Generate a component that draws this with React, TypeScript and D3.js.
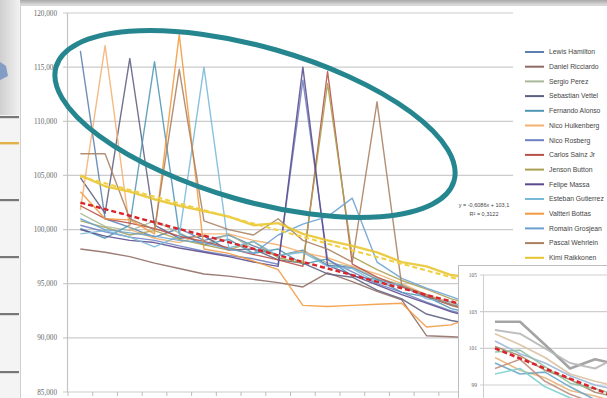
import React from "react";
import * as d3 from "d3";

const laps = d3.range(1, 19);
const yTicks = [85, 90, 95, 100, 105, 110, 115, 120];

const drivers = [
  "Lewis Hamilton", "Daniel Ricciardo", "Sergio Perez", "Sebastian Vettel", "Fernando Alonso",
  "Nico Hulkenberg", "Nico Rosberg", "Carlos Sainz Jr", "Jenson Button", "Felipe Massa",
  "Esteban Gutierrez", "Valtteri Bottas", "Romain Grosjean", "Pascal Wehrlein", "Kimi Raikkonen",
];
const colors = [
  "#5b80b0", "#8e6a62", "#a9b79a", "#5c5f80", "#4f97b5",
  "#f3b070", "#6f7fc0", "#b8504a", "#a8a050", "#5a4a8c",
  "#7ab8d8", "#f39a40", "#6aa0d0", "#a88060", "#e8c530",
];

const hamilton = [116.5, 101.0, 100.2, 99.3, 100.1, 99.0, 99.5, 98.5, 97.6, 98.1, 96.7, 96.5, 95.4, 94.8, 93.8, 93.1, 92.6, 92.0];
const ricciardo = [98.2, 97.9, 97.5, 96.9, 96.4, 95.9, 95.7, 95.4, 95.1, 94.7, 96.0, 95.2, 94.3, 93.5, 90.2, 90.1, 90.0, 90.0];
const perez = [101.5, 100.3, 99.9, 100.8, 99.7, 98.6, 99.6, 98.2, 97.6, 98.0, 96.9, 96.6, 95.5, 94.9, 93.9, 93.3, 92.6, 92.3];
const vettel = [104.8, 101.5, 115.8, 100.4, 99.2, 99.4, 98.1, 98.2, 97.2, 96.9, 95.9, 95.6, 94.4, 93.6, 92.2, 91.6, 91.2, 90.9];
const alonso = [100.1, 99.2, 100.4, 115.5, 99.6, 98.6, 99.1, 97.8, 98.2, 96.8, 97.3, 95.7, 95.4, 94.2, 93.8, 92.7, 92.2, 91.7];
const hulkenberg = [101.8, 117.0, 100.0, 99.2, 98.8, 99.6, 99.6, 99.0, 98.6, 97.9, 97.4, 96.6, 95.9, 95.0, 94.0, 93.2, 92.6, 92.2];
const rosberg = [100.4, 99.8, 99.3, 99.0, 98.5, 98.0, 97.6, 97.3, 96.8, 113.8, 97.2, 96.1, 95.0, 94.2, 93.3, 92.5, 91.9, 91.5];
const sainz = [102.2, 101.0, 100.6, 100.1, 99.4, 98.9, 98.3, 97.7, 97.2, 96.6, 114.6, 96.8, 95.6, 94.7, 93.8, 93.0, 92.5, 92.0];
const button = [100.8, 100.2, 99.5, 99.9, 99.1, 98.6, 98.1, 98.9, 97.4, 96.9, 113.5, 97.5, 96.3, 95.3, 94.5, 93.6, 93.0, 92.6];
const massa = [100.0, 99.4, 99.0, 98.8, 98.3, 97.9, 97.5, 97.0, 96.6, 115.0, 96.7, 95.8, 94.9, 94.0, 93.2, 92.4, 91.8, 91.4];
const gutierrez = [99.6, 99.9, 99.3, 98.4, 99.4, 115.0, 98.3, 98.9, 97.6, 97.9, 96.6, 96.4, 95.1, 94.9, 93.6, 93.3, 92.4, 92.3];
const bottas = [103.5, 101.0, 100.9, 99.6, 118.0, 98.2, 97.8, 97.1, 96.3, 93.0, 92.9, 93.0, 93.1, 93.2, 91.0, 91.2, 92.0, 91.5];
const grosjean = [101.0, 100.0, 99.7, 99.4, 99.0, 98.8, 98.2, 97.8, 99.5, 100.5, 101.2, 102.9, 97.0, 95.5, 94.6, 93.8, 93.0, 92.5];
const wehrlein = [107.0, 107.0, 101.0, 100.0, 114.8, 100.8, 100.0, 99.5, 101.0, 99.0, 98.2, 97.0, 111.8, 94.8, 94.0, 93.0, 92.3, 91.9];
const raikkonen = [105.0, 104.0, 103.5, 102.8, 102.2, 101.7, 101.2, 100.4, 100.6, 99.6, 99.0, 98.5, 97.9, 97.0, 96.6, 95.8, 95.5, 95.0];
const seriesValues = [hamilton, ricciardo, perez, vettel, alonso, hulkenberg, rosberg, sainz, button, massa, gutierrez, bottas, grosjean, wehrlein, raikkonen];

// trend lines
const trendSlope = -0.6086;
const trendIntercept = 103.1;
const yellowTrendStart = 104.9;
const yellowTrendSlope = -0.62;

// inset
const insetLaps = [1, 2, 3, 4, 5, 6];
const insetTicks = [99, 101, 103, 105];
const insetSeries = [
  { color: "#9a9a9a", w: 2.6, v: [102.45, 102.45, 101.2, 99.9, 100.4, 100.1] },
  { color: "#b8b8b8", w: 2, v: [102.0, 101.8, 101.0, 100.2, 99.9, 100.6] },
  { color: "#d9c0a0", w: 1.6, v: [101.8, 101.2, 100.5, 99.6, 99.2, 98.9] },
  { color: "#9fb6d8", w: 1.6, v: [101.4, 100.7, 100.2, 99.5, 99.0, 98.7] },
  { color: "#a58a6a", w: 1.6, v: [101.1, 100.6, 99.8, 99.3, 98.6, 98.3] },
  { color: "#8fc0a0", w: 1.6, v: [100.8, 100.9, 100.0, 99.1, 98.8, 98.4] },
  { color: "#e7b47a", w: 1.6, v: [100.5, 99.8, 99.4, 98.7, 98.4, 98.0] },
  { color: "#6aa6c8", w: 1.6, v: [100.2, 99.6, 99.7, 98.9, 98.2, 97.9] },
  { color: "#c09080", w: 1.6, v: [99.9, 100.4, 99.2, 98.5, 98.0, 97.8] },
  { color: "#7fd0d0", w: 1.6, v: [99.6, 99.9, 98.9, 98.3, 97.9, 97.6] },
];
const insetTrend = [101.0, 100.45, 99.9, 99.35, 98.8, 98.25];

const W = 607;
const H = 398;

export default function App() {
  const x = d3.scaleBand<number>().domain(laps).range([68, 513]).padding(0);
  const cx = (l: number) => (x(l) as number) + x.bandwidth() / 2;
  const y = d3.scaleLinear().domain([85, 120]).range([392, 13]);
  const line = d3.line<number>().x((_, i) => cx(laps[i])).y((v) => y(v));
  const fmt = (v: number) => d3.format(",.0f")(v * 1000);

  const ix = d3.scalePoint<number>().domain(insetLaps).range([495, 620]);
  const iy = d3.scaleLinear().domain([99, 105]).range([385, 275]);
  const iline = d3.line<number>().x((_, i) => ix(insetLaps[i]) as number).y((v) => iy(v));

  const redTrend = laps.map((l) => trendIntercept + trendSlope * l);
  const yellowTrend = laps.map((l, i) => yellowTrendStart + yellowTrendSlope * i);

  return (
    <svg width={W} height={H} style={{ position: "absolute", left: 0, top: 0, display: "block" }}>
      <defs>
        <linearGradient id="topg" x1="0" y1="0" x2="0" y2="1">
          <stop offset="0" stopColor="#a8a8a8" />
          <stop offset="1" stopColor="#e6e6e6" />
        </linearGradient>
        <linearGradient id="leftg" x1="0" y1="0" x2="1" y2="0">
          <stop offset="0" stopColor="#cfcfcf" />
          <stop offset="1" stopColor="#f2f2f2" />
        </linearGradient>
      </defs>
      <rect x={0} y={0} width={W} height={H} fill="#ffffff" />
      {/* background window strips */}
      <rect x={0} y={0} width={W} height={6} fill="url(#topg)" />
      <rect x={0} y={0} width={20} height={H} fill="#f4f4f4" />
      <rect x={0} y={0} width={20} height={115} fill="url(#leftg)" />
      <path d="M0,62 L6,66 L8,76 L0,80 Z" fill="#6f8fbf" opacity={0.8} />
      {[117, 200, 257, 314, 372].map((yy) => (
        <rect key={yy} x={0} y={yy - 1} width={19} height={2.2} fill="#777" />
      ))}
      <rect x={0} y={142} width={19} height={2.4} fill="#e2b24a" />
      <line x1={20.5} y1={5} x2={20.5} y2={H} stroke="#cfcfcf" />
      <line x1={20} y1={5.5} x2={W} y2={5.5} stroke="#d8d8d8" />

      {/* grid */}
      {yTicks.map((t) => (
        <g key={t}>
          <line x1={63} x2={513} y1={y(t)} y2={y(t)} stroke="#cccccc" strokeWidth={1.2} />
          <text x={57} y={y(t) + 2.5} textAnchor="end" fontSize={7.2} fill="#666" fontFamily="Liberation Serif, serif">
            {fmt(t)}
          </text>
        </g>
      ))}
      <line x1={67.5} x2={67.5} y1={13} y2={392} stroke="#c4c4c4" strokeWidth={1.2} />
      {laps.concat([19]).map((l, i) => {
        const xx = 68 + i * x.bandwidth();
        return <line key={i} x1={xx} x2={xx} y1={392} y2={396} stroke="#bbb" />;
      })}

      {/* series */}
      <g fill="none" strokeLinejoin="round">
        {seriesValues.map((vals, i) => (
          <path key={i} d={line(vals) || ""} stroke={colors[i]} strokeWidth={i === 14 ? 2.4 : 1.4} opacity={0.88} />
        ))}
        <path d={line(yellowTrend) || ""} stroke="#f0d040" strokeWidth={2} strokeDasharray="5 3" />
        <path d={line(redTrend) || ""} stroke="#d8242a" strokeWidth={2.4} strokeDasharray="5 3" />
      </g>

      {/* annotation ellipse */}
      <ellipse cx={255} cy={124} rx={207} ry={77} transform="rotate(16 255 124)" fill="none" stroke="#26868f" strokeWidth={5} />

      {/* trend equation */}
      <text x={484} y={207} textAnchor="middle" fontSize={5.5} fill="#444" fontFamily="Liberation Sans, sans-serif">
        y = -0,6086x + 103,1
      </text>
      <text x={484} y={216} textAnchor="middle" fontSize={5.5} fill="#444" fontFamily="Liberation Sans, sans-serif">
        R² = 0,3122
      </text>

      {/* legend */}
      {drivers.map((d, i) => {
        const ly = 52 + i * 14.7;
        return (
          <g key={d}>
            <line x1={525} x2={544} y1={ly} y2={ly} stroke={colors[i]} strokeWidth={2} />
            <text x={549} y={ly + 2.3} fontSize={6.8} fill="#444" fontFamily="Liberation Sans, sans-serif">
              {d}
            </text>
          </g>
        );
      })}

      {/* inset chart */}
      <rect x={458.5} y={265.5} width={160} height={140} fill="#ffffff" stroke="#bdbdbd" />
      {insetTicks.map((t) => (
        <g key={t}>
          <line x1={480} x2={W} y1={iy(t)} y2={iy(t)} stroke="#cfcfcf" strokeWidth={1.2} />
          <text x={477} y={iy(t) + 2} textAnchor="end" fontSize={5.5} fill="#666" fontFamily="Liberation Serif, serif">
            {t}
          </text>
        </g>
      ))}
      <line x1={483.5} x2={483.5} y1={275} y2={H} stroke="#cfcfcf" />
      <g fill="none" strokeLinejoin="round">
        {insetSeries.map((s, i) => (
          <path key={i} d={iline(s.v) || ""} stroke={s.color} strokeWidth={s.w} opacity={0.9} />
        ))}
        <path d={iline(insetTrend) || ""} stroke="#d8242a" strokeWidth={2.6} strokeDasharray="5 3" />
      </g>
    </svg>
  );
}
